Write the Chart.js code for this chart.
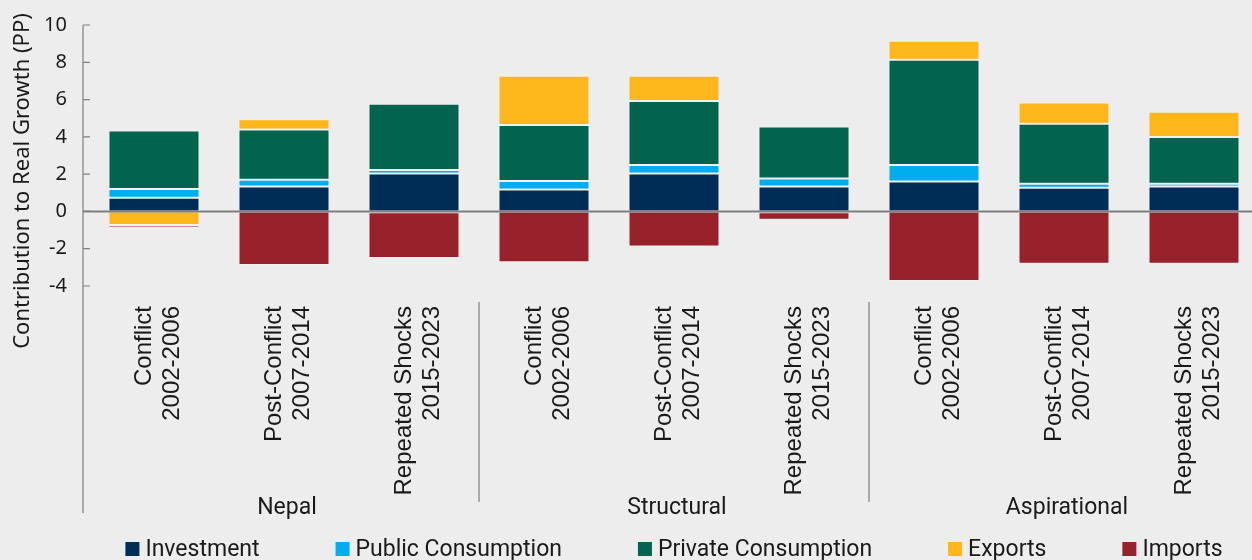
<!DOCTYPE html>
<html>
<head>
<meta charset="utf-8">
<script src="https://cdn.jsdelivr.net/npm/chart.js@4.4.1/dist/chart.umd.min.js"></script>
<style>
  html, body { margin: 0; padding: 0; background: #ededed; overflow: hidden; }
  #wrap { width: 1262px; height: 560px; }
</style>
</head>
<body>
<div id="wrap"><canvas id="growthChart"></canvas></div>
<script>
// periods, repeated for each comparator group
const categories = [
    ['Conflict', '2002-2006'], ['Post-Conflict', '2007-2014'], ['Repeated Shocks', '2015-2023'],
    ['Conflict', '2002-2006'], ['Post-Conflict', '2007-2014'], ['Repeated Shocks', '2015-2023'],
    ['Conflict', '2002-2006'], ['Post-Conflict', '2007-2014'], ['Repeated Shocks', '2015-2023']
];
const groups = ['Nepal', 'Structural', 'Aspirational'];

// contributions to real growth, percentage points
const investment = [0.73, 1.34, 2.04, 1.18, 2.04, 1.34, 1.61, 1.27, 1.34];
const publicConsumption = [0.47, 0.36, 0.18, 0.45, 0.45, 0.43, 0.88, 0.22, 0.15];
const privateConsumption = [3.14, 2.70, 3.55, 3.00, 3.43, 2.79, 5.64, 3.21, 2.50];
const exportsC = [-0.73, 0.54, -0.05, 2.65, 1.36, -0.05, 1.02, 1.14, 1.36];
const importsC = [-0.13, -2.87, -2.45, -2.73, -1.88, -0.40, -3.73, -2.80, -2.80];

const yTicks = [-4, -2, 0, 2, 4, 6, 8, 10];

const seriesNames = ['Investment', 'Public Consumption', 'Private Consumption', 'Exports', 'Imports'];
const seriesColors = ['#002d56', '#00aeef', '#02634f', '#fdb71a', '#97222b'];
const seriesData = [investment, publicConsumption, privateConsumption, exportsC, importsC];

const textColor = '#1a1a1a';
const axisGray = '#7f7f7f';

const decor = {
    id: 'decor',
    afterDatasetsDraw(chart) {
        const { ctx, chartArea, scales: { x, y } } = chart;
        const axisX = chartArea.left - 6;
        ctx.save();

        // zero line over the bars
        ctx.strokeStyle = axisGray;
        ctx.lineWidth = 2;
        ctx.beginPath();
        ctx.moveTo(axisX, y.getPixelForValue(0));
        ctx.lineTo(chartArea.right + 4, y.getPixelForValue(0));
        ctx.stroke();

        // value axis line and small inside ticks
        ctx.lineWidth = 1.2;
        ctx.beginPath();
        ctx.moveTo(axisX, y.getPixelForValue(10));
        ctx.lineTo(axisX, chartArea.bottom + 227);
        yTicks.forEach(v => {
            const py = y.getPixelForValue(v);
            ctx.moveTo(axisX, py);
            ctx.lineTo(axisX + 7, py);
        });
        ctx.stroke();

        // group separators
        const step = x.getPixelForValue(1) - x.getPixelForValue(0);
        ctx.beginPath();
        [2, 5].forEach(i => {
            const px = x.getPixelForValue(i) + step / 2;
            ctx.moveTo(px, chartArea.bottom + 16);
            ctx.lineTo(px, chartArea.bottom + 216);
        });
        ctx.stroke();

        // group labels
        ctx.fillStyle = textColor;
        ctx.font = '23px Roboto';
        ctx.textAlign = 'center';
        ctx.textBaseline = 'middle';
        groups.forEach((g, i) => {
            ctx.fillText(g, x.getPixelForValue(i * 3 + 1) + 3, chartArea.bottom + 222);
        });

        // y title
        ctx.save();
        ctx.translate(23, 181);
        ctx.rotate(-Math.PI / 2);
        ctx.font = '22px "Noto Sans"';
        ctx.fillText('Contribution to Real Growth (PP)', 0, 0);
        ctx.restore();

        // legend
        ctx.font = '23px Roboto';
        ctx.textAlign = 'left';
        const box = 14, gapText = 6, gapItem = 76;
        const widths = seriesNames.map(n => box + gapText + ctx.measureText(n).width);
        const total = widths.reduce((a, b) => a + b, 0) + gapItem * (widths.length - 1);
        let lx = (chartArea.left + chartArea.right) / 2 - total / 2;
        const ly = 549;
        seriesNames.forEach((n, i) => {
            ctx.fillStyle = seriesColors[i];
            ctx.fillRect(lx, ly - box / 2, box, box);
            ctx.fillStyle = textColor;
            ctx.fillText(n, lx + box + gapText, ly + 1);
            lx += widths[i] + gapItem;
        });
        ctx.restore();
    }
};

new Chart(document.getElementById('growthChart'), {
    type: 'bar',
    data: {
        labels: categories,
        datasets: seriesNames.map((name, i) => ({
            label: name,
            data: seriesData[i],
            backgroundColor: seriesColors[i],
            borderColor: 'rgba(255,255,255,0.25)',
            borderWidth: 1,
            borderSkipped: false,
            barPercentage: 0.7,
            categoryPercentage: 1
        }))
    },
    options: {
        responsive: true,
        maintainAspectRatio: false,
        animation: false,
        layout: { padding: { top: 25, right: 3, left: 0, bottom: 0 } },
        plugins: {
            legend: { display: false },
            tooltip: { enabled: false }
        },
        scales: {
            x: {
                stacked: true,
                grid: { display: false },
                border: { display: false },
                ticks: {
                    autoSkip: false,
                    maxRotation: 90,
                    minRotation: 90,
                    padding: 12,
                    labelOffset: -10,
                    color: textColor,
                    font: { family: 'Liberation Sans', size: 24, lineHeight: 1.2 }
                },
                afterFit: s => { s.height = 274; s.paddingLeft = 0; s.paddingRight = 0; }
            },
            y: {
                stacked: true,
                min: -4,
                max: 10,
                grid: { display: false, drawTicks: false },
                border: { display: false },
                ticks: {
                    stepSize: 2,
                    padding: 22,
                    color: textColor,
                    font: { family: 'Noto Sans', size: 20 }
                },
                afterFit: s => { s.width = 89; s.paddingTop = 0; s.paddingBottom = 0; }
            }
        }
    },
    plugins: [decor]
});
</script>
</body>
</html>
